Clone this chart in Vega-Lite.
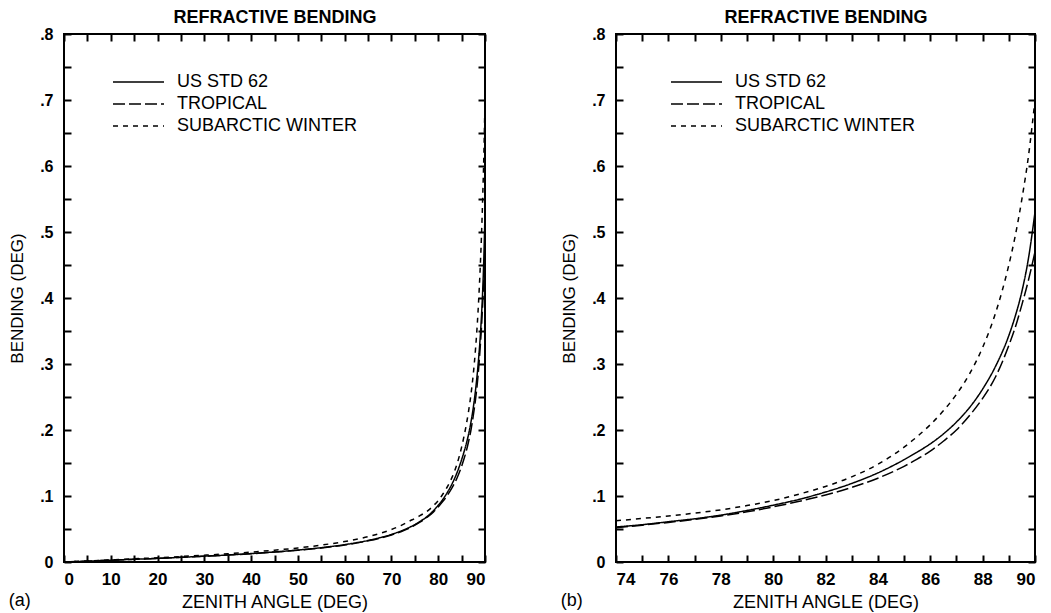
{
  "$schema": "https://vega.github.io/schema/vega-lite/v6.json",
  "background": "white",
  "padding": {"left": 7, "top": 7, "right": 5, "bottom": 0},
  "config": {
    "font": "Liberation Sans",
    "view": {"stroke": "black", "strokeWidth": 2},
    "axis": {
      "grid": false,
      "domain": false,
      "labelColor": "black",
      "labelFont": "Liberation Sans",
      "labelFontWeight": "bold",
      "titleColor": "black",
      "titleFont": "Liberation Sans",
      "titleFontWeight": "normal"
    },
    "title": {"color": "black", "font": "Liberation Sans", "fontWeight": "bold", "fontSize": 17}
  },
  "datasets": {
    "bend": [
      {"angle": 0, "model": "US STD 62", "bending": 0},
      {"angle": 5, "model": "US STD 62", "bending": 0.0013},
      {"angle": 10, "model": "US STD 62", "bending": 0.0027},
      {"angle": 15, "model": "US STD 62", "bending": 0.0041},
      {"angle": 20, "model": "US STD 62", "bending": 0.0055},
      {"angle": 25, "model": "US STD 62", "bending": 0.0071},
      {"angle": 30, "model": "US STD 62", "bending": 0.0088},
      {"angle": 35, "model": "US STD 62", "bending": 0.0106},
      {"angle": 40, "model": "US STD 62", "bending": 0.0128},
      {"angle": 45, "model": "US STD 62", "bending": 0.0152},
      {"angle": 50, "model": "US STD 62", "bending": 0.0181},
      {"angle": 55, "model": "US STD 62", "bending": 0.0217},
      {"angle": 60, "model": "US STD 62", "bending": 0.0263},
      {"angle": 65, "model": "US STD 62", "bending": 0.0326},
      {"angle": 70, "model": "US STD 62", "bending": 0.0418},
      {"angle": 72, "model": "US STD 62", "bending": 0.0468},
      {"angle": 74, "model": "US STD 62", "bending": 0.053},
      {"angle": 75, "model": "US STD 62", "bending": 0.0565},
      {"angle": 76, "model": "US STD 62", "bending": 0.061},
      {"angle": 77, "model": "US STD 62", "bending": 0.0655},
      {"angle": 78, "model": "US STD 62", "bending": 0.071},
      {"angle": 79, "model": "US STD 62", "bending": 0.078},
      {"angle": 80, "model": "US STD 62", "bending": 0.086},
      {"angle": 81, "model": "US STD 62", "bending": 0.095},
      {"angle": 82, "model": "US STD 62", "bending": 0.106},
      {"angle": 83, "model": "US STD 62", "bending": 0.119},
      {"angle": 84, "model": "US STD 62", "bending": 0.135},
      {"angle": 85, "model": "US STD 62", "bending": 0.155},
      {"angle": 85.5, "model": "US STD 62", "bending": 0.1665},
      {"angle": 86, "model": "US STD 62", "bending": 0.179},
      {"angle": 86.5, "model": "US STD 62", "bending": 0.194},
      {"angle": 87, "model": "US STD 62", "bending": 0.212},
      {"angle": 87.5, "model": "US STD 62", "bending": 0.234},
      {"angle": 88, "model": "US STD 62", "bending": 0.262},
      {"angle": 88.5, "model": "US STD 62", "bending": 0.297},
      {"angle": 89, "model": "US STD 62", "bending": 0.343},
      {"angle": 89.25, "model": "US STD 62", "bending": 0.373},
      {"angle": 89.5, "model": "US STD 62", "bending": 0.41},
      {"angle": 89.75, "model": "US STD 62", "bending": 0.46},
      {"angle": 90, "model": "US STD 62", "bending": 0.53},

      {"angle": 0, "model": "TROPICAL", "bending": 0},
      {"angle": 5, "model": "TROPICAL", "bending": 0.0013},
      {"angle": 10, "model": "TROPICAL", "bending": 0.0027},
      {"angle": 15, "model": "TROPICAL", "bending": 0.0041},
      {"angle": 20, "model": "TROPICAL", "bending": 0.0055},
      {"angle": 25, "model": "TROPICAL", "bending": 0.0071},
      {"angle": 30, "model": "TROPICAL", "bending": 0.0087},
      {"angle": 35, "model": "TROPICAL", "bending": 0.0105},
      {"angle": 40, "model": "TROPICAL", "bending": 0.0126},
      {"angle": 45, "model": "TROPICAL", "bending": 0.015},
      {"angle": 50, "model": "TROPICAL", "bending": 0.0178},
      {"angle": 55, "model": "TROPICAL", "bending": 0.0213},
      {"angle": 60, "model": "TROPICAL", "bending": 0.0258},
      {"angle": 65, "model": "TROPICAL", "bending": 0.032},
      {"angle": 70, "model": "TROPICAL", "bending": 0.041},
      {"angle": 72, "model": "TROPICAL", "bending": 0.0459},
      {"angle": 74, "model": "TROPICAL", "bending": 0.052},
      {"angle": 75, "model": "TROPICAL", "bending": 0.0558},
      {"angle": 76, "model": "TROPICAL", "bending": 0.06},
      {"angle": 77, "model": "TROPICAL", "bending": 0.0646},
      {"angle": 78, "model": "TROPICAL", "bending": 0.0698},
      {"angle": 79, "model": "TROPICAL", "bending": 0.076},
      {"angle": 80, "model": "TROPICAL", "bending": 0.0835},
      {"angle": 81, "model": "TROPICAL", "bending": 0.092},
      {"angle": 82, "model": "TROPICAL", "bending": 0.1015},
      {"angle": 83, "model": "TROPICAL", "bending": 0.113},
      {"angle": 84, "model": "TROPICAL", "bending": 0.127},
      {"angle": 85, "model": "TROPICAL", "bending": 0.145},
      {"angle": 85.5, "model": "TROPICAL", "bending": 0.156},
      {"angle": 86, "model": "TROPICAL", "bending": 0.168},
      {"angle": 86.5, "model": "TROPICAL", "bending": 0.183},
      {"angle": 87, "model": "TROPICAL", "bending": 0.2},
      {"angle": 87.5, "model": "TROPICAL", "bending": 0.222},
      {"angle": 88, "model": "TROPICAL", "bending": 0.248},
      {"angle": 88.5, "model": "TROPICAL", "bending": 0.281},
      {"angle": 89, "model": "TROPICAL", "bending": 0.328},
      {"angle": 89.25, "model": "TROPICAL", "bending": 0.356},
      {"angle": 89.5, "model": "TROPICAL", "bending": 0.39},
      {"angle": 89.75, "model": "TROPICAL", "bending": 0.427},
      {"angle": 90, "model": "TROPICAL", "bending": 0.47},

      {"angle": 0, "model": "SUBARCTIC WINTER", "bending": 0},
      {"angle": 5, "model": "SUBARCTIC WINTER", "bending": 0.0016},
      {"angle": 10, "model": "SUBARCTIC WINTER", "bending": 0.0032},
      {"angle": 15, "model": "SUBARCTIC WINTER", "bending": 0.0048},
      {"angle": 20, "model": "SUBARCTIC WINTER", "bending": 0.0065},
      {"angle": 25, "model": "SUBARCTIC WINTER", "bending": 0.0083},
      {"angle": 30, "model": "SUBARCTIC WINTER", "bending": 0.0103},
      {"angle": 35, "model": "SUBARCTIC WINTER", "bending": 0.0125},
      {"angle": 40, "model": "SUBARCTIC WINTER", "bending": 0.015},
      {"angle": 45, "model": "SUBARCTIC WINTER", "bending": 0.0179},
      {"angle": 50, "model": "SUBARCTIC WINTER", "bending": 0.0213},
      {"angle": 55, "model": "SUBARCTIC WINTER", "bending": 0.0256},
      {"angle": 60, "model": "SUBARCTIC WINTER", "bending": 0.031},
      {"angle": 65, "model": "SUBARCTIC WINTER", "bending": 0.0384},
      {"angle": 70, "model": "SUBARCTIC WINTER", "bending": 0.0492},
      {"angle": 72, "model": "SUBARCTIC WINTER", "bending": 0.0551},
      {"angle": 74, "model": "SUBARCTIC WINTER", "bending": 0.0625},
      {"angle": 75, "model": "SUBARCTIC WINTER", "bending": 0.066},
      {"angle": 76, "model": "SUBARCTIC WINTER", "bending": 0.0698},
      {"angle": 77, "model": "SUBARCTIC WINTER", "bending": 0.074},
      {"angle": 78, "model": "SUBARCTIC WINTER", "bending": 0.079},
      {"angle": 79, "model": "SUBARCTIC WINTER", "bending": 0.0855},
      {"angle": 80, "model": "SUBARCTIC WINTER", "bending": 0.093},
      {"angle": 81, "model": "SUBARCTIC WINTER", "bending": 0.103},
      {"angle": 82, "model": "SUBARCTIC WINTER", "bending": 0.1145},
      {"angle": 83, "model": "SUBARCTIC WINTER", "bending": 0.129},
      {"angle": 84, "model": "SUBARCTIC WINTER", "bending": 0.148},
      {"angle": 85, "model": "SUBARCTIC WINTER", "bending": 0.174},
      {"angle": 85.5, "model": "SUBARCTIC WINTER", "bending": 0.19},
      {"angle": 86, "model": "SUBARCTIC WINTER", "bending": 0.208},
      {"angle": 86.5, "model": "SUBARCTIC WINTER", "bending": 0.229},
      {"angle": 87, "model": "SUBARCTIC WINTER", "bending": 0.254},
      {"angle": 87.5, "model": "SUBARCTIC WINTER", "bending": 0.285},
      {"angle": 88, "model": "SUBARCTIC WINTER", "bending": 0.325},
      {"angle": 88.5, "model": "SUBARCTIC WINTER", "bending": 0.378},
      {"angle": 89, "model": "SUBARCTIC WINTER", "bending": 0.45},
      {"angle": 89.25, "model": "SUBARCTIC WINTER", "bending": 0.495},
      {"angle": 89.5, "model": "SUBARCTIC WINTER", "bending": 0.55},
      {"angle": 89.75, "model": "SUBARCTIC WINTER", "bending": 0.615},
      {"angle": 90, "model": "SUBARCTIC WINTER", "bending": 0.7}
    ]
  },
  "hconcat": [
    {
      "width": 421,
      "height": 528,
      "data": {"name": "bend"},
      "title": {"text": "(a)", "orient": "bottom", "anchor": "start", "offset": -19, "fontSize": 18, "fontWeight": "normal"},
      "layer": [
        {
          "mark": {"type": "line", "color": "black", "strokeWidth": 1.5, "interpolate": "monotone"},
          "encoding": {
            "x": {"field": "angle", "type": "quantitative", "scale": {"domain": [0, 90], "nice": false},
              "axis": {"orient": "bottom", "values": [0,5,10,15,20,25,30,35,40,45,50,55,60,65,70,75,80,85,90],
                "ticks": true, "tickSize": -7, "tickColor": "black", "tickWidth": 2,
                "labelExpr": "datum.value % 10 == 0 ? datum.label : ''", "labelFontSize": 17, "labelPadding": 16,
                "title": "ZENITH ANGLE (DEG)", "titleFontSize": 18, "titlePadding": 6}},
            "y": {"field": "bending", "type": "quantitative", "scale": {"domain": [0, 0.8], "nice": false},
              "axis": {"orient": "left", "values": [0,0.05,0.1,0.15,0.2,0.25,0.3,0.35,0.4,0.45,0.5,0.55,0.6,0.65,0.7,0.75,0.8],
                "ticks": true, "tickSize": -7, "tickColor": "black", "tickWidth": 2,
                "labelExpr": "datum.value == 0 ? '0' : (round(datum.value * 100) % 10 == 0 ? replace(format(datum.value, '.1f'), '0.', '.') : '')",
                "labelFontSize": 16, "labelPadding": 18, "title": "BENDING (DEG)", "titleFontSize": 17, "titlePadding": 13}},
            "strokeDash": {"field": "model", "type": "nominal",
              "scale": {"domain": ["US STD 62", "TROPICAL", "SUBARCTIC WINTER"], "range": [[1, 0], [12, 4], [5, 5]]},
              "legend": {"orient": "none", "legendX": 48, "legendY": 38, "title": null, "symbolType": "stroke",
                "symbolSize": 2601, "symbolStrokeWidth": 1.5, "symbolStrokeColor": "black", "clipHeight": 20,
                "rowPadding": 2, "labelFontSize": 18, "labelOffset": 12, "labelLimit": 400, "labelColor": "black", "labelFont": "Liberation Sans"}}
          }
        },
        {
          "mark": {"type": "point", "opacity": 0},
          "encoding": {
            "x": {"field": "angle", "type": "quantitative",
              "axis": {"orient": "top", "values": [0,5,10,15,20,25,30,35,40,45,50,55,60,65,70,75,80,85,90], "labels": false,
                "ticks": true, "tickSize": -7, "tickColor": "black", "tickWidth": 2,
                "title": "REFRACTIVE BENDING", "titleFontSize": 18, "titleFontWeight": "bold", "titlePadding": 7}},
            "y": {"field": "bending", "type": "quantitative",
              "axis": {"orient": "right", "values": [0,0.05,0.1,0.15,0.2,0.25,0.3,0.35,0.4,0.45,0.5,0.55,0.6,0.65,0.7,0.75,0.8], "labels": false,
                "ticks": true, "tickSize": -7, "tickColor": "black", "tickWidth": 2, "title": null}}
          }
        }
      ],
      "resolve": {"axis": {"x": "independent", "y": "independent"}}
    },
    {
      "width": 419,
      "height": 528,
      "data": {"name": "bend"},
      "transform": [{"filter": "datum.angle >= 74"}],
      "title": {"text": "(b)", "orient": "bottom", "anchor": "start", "offset": -19, "fontSize": 18, "fontWeight": "normal"},
      "layer": [
        {
          "mark": {"type": "line", "color": "black", "strokeWidth": 1.5, "interpolate": "monotone"},
          "encoding": {
            "x": {"field": "angle", "type": "quantitative", "scale": {"domain": [74, 90], "nice": false},
              "axis": {"orient": "bottom", "values": [74,75,76,77,78,79,80,81,82,83,84,85,86,87,88,89,90],
                "ticks": true, "tickSize": -7, "tickColor": "black", "tickWidth": 2,
                "labelExpr": "datum.value % 2 == 0 ? datum.label : ''", "labelFontSize": 17, "labelPadding": 16,
                "title": "ZENITH ANGLE (DEG)", "titleFontSize": 18, "titlePadding": 6}},
            "y": {"field": "bending", "type": "quantitative", "scale": {"domain": [0, 0.8], "nice": false},
              "axis": {"orient": "left", "values": [0,0.05,0.1,0.15,0.2,0.25,0.3,0.35,0.4,0.45,0.5,0.55,0.6,0.65,0.7,0.75,0.8],
                "ticks": true, "tickSize": -7, "tickColor": "black", "tickWidth": 2,
                "labelExpr": "datum.value == 0 ? '0' : (round(datum.value * 100) % 10 == 0 ? replace(format(datum.value, '.1f'), '0.', '.') : '')",
                "labelFontSize": 16, "labelPadding": 18, "title": "BENDING (DEG)", "titleFontSize": 17, "titlePadding": 13}},
            "strokeDash": {"field": "model", "type": "nominal",
              "scale": {"domain": ["US STD 62", "TROPICAL", "SUBARCTIC WINTER"], "range": [[1, 0], [12, 4], [5, 5]]},
              "legend": {"orient": "none", "legendX": 54, "legendY": 38, "title": null, "symbolType": "stroke",
                "symbolSize": 2601, "symbolStrokeWidth": 1.5, "symbolStrokeColor": "black", "clipHeight": 20,
                "rowPadding": 2, "labelFontSize": 18, "labelOffset": 12, "labelLimit": 400, "labelColor": "black", "labelFont": "Liberation Sans"}}
          }
        },
        {
          "mark": {"type": "point", "opacity": 0},
          "encoding": {
            "x": {"field": "angle", "type": "quantitative",
              "axis": {"orient": "top", "values": [74,75,76,77,78,79,80,81,82,83,84,85,86,87,88,89,90], "labels": false,
                "ticks": true, "tickSize": -7, "tickColor": "black", "tickWidth": 2,
                "title": "REFRACTIVE BENDING", "titleFontSize": 18, "titleFontWeight": "bold", "titlePadding": 7}},
            "y": {"field": "bending", "type": "quantitative",
              "axis": {"orient": "right", "values": [0,0.05,0.1,0.15,0.2,0.25,0.3,0.35,0.4,0.45,0.5,0.55,0.6,0.65,0.7,0.75,0.8], "labels": false,
                "ticks": true, "tickSize": -7, "tickColor": "black", "tickWidth": 2, "title": null}}
          }
        }
      ],
      "resolve": {"axis": {"x": "independent", "y": "independent"}}
    }
  ],
  "spacing": 70,
  "resolve": {"scale": {"strokeDash": "independent"}, "legend": {"strokeDash": "independent"}}
}
